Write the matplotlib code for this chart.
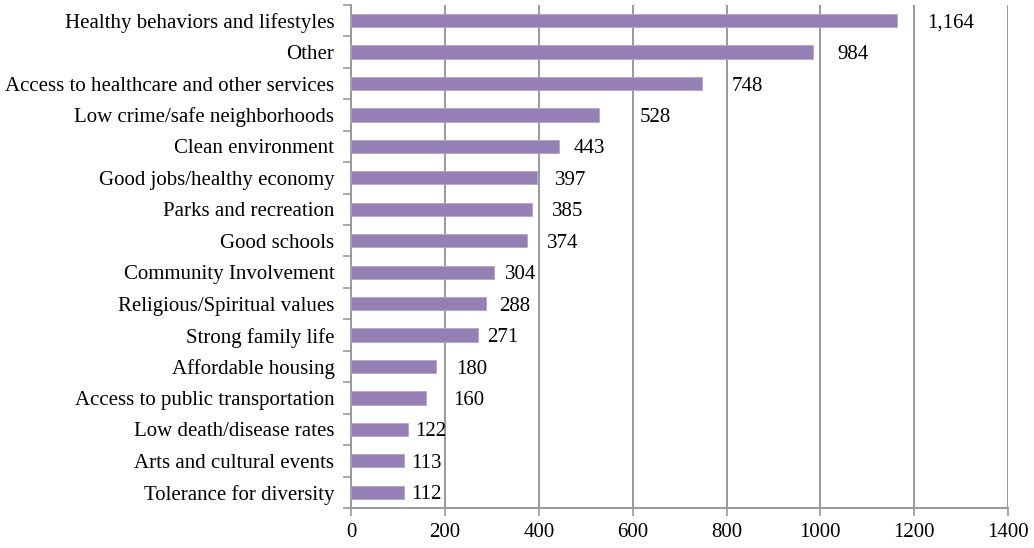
import matplotlib
matplotlib.use("Agg")
import matplotlib.pyplot as plt
import numpy as np
from matplotlib.ticker import FixedLocator

categories = [
    "Healthy behaviors and lifestyles",
    "Other",
    "Access to healthcare and other services",
    "Low crime/safe neighborhoods",
    "Clean environment",
    "Good jobs/healthy economy",
    "Parks and recreation",
    "Good schools",
    "Community Involvement",
    "Religious/Spiritual values",
    "Strong family life",
    "Affordable housing",
    "Access to public transportation",
    "Low death/disease rates",
    "Arts and cultural events",
    "Tolerance for diversity",
]
values = [1164, 984, 748, 528, 443, 397, 385, 374, 304, 288, 271, 180, 160, 122, 113, 112]
value_labels = ["1,164", "984", "748", "528", "443", "397", "385", "374",
                "304", "288", "271", "180", "160", "122", "113", "112"]
# where each data label sits (x in data units, as placed in the original)
label_x = [1228, 1036, 811, 614, 475, 435, 428, 418, 327, 315, 289, 224, 217, 136, 129, 129]
x_ticks = [0, 200, 400, 600, 800, 1000, 1200, 1400]

plt.rcParams['font.family'] = ['Liberation Serif', 'DejaVu Serif']

fig = plt.figure(figsize=(10.34, 5.48), dpi=100)
ax = fig.add_axes([0.3395, 0.073, 0.6355, 0.918])

n = len(categories)
y = np.arange(n)
bar_color = "#9580B5"
ax.barh(y, values, height=0.42, color=bar_color, edgecolor="#B3A3CC", linewidth=0.6, zorder=3)

ax.set_xlim(0, 1400)
ax.set_ylim(n - 0.5, -0.5)
ax.xaxis.set_major_locator(FixedLocator(x_ticks))
ax.set_xticklabels([str(t) for t in x_ticks], fontsize=15)

ax.set_yticks(y)
ax.set_yticklabels(categories, fontsize=15)
ax.tick_params(axis='y', which='major', length=0, pad=12)
ax.set_yticks(np.arange(-0.5, n, 1.0), minor=True)
ax.tick_params(axis='y', which='minor', length=6, width=1.2, color="#999999", direction='out')
ax.tick_params(axis='x', which='major', length=6, width=1.2, color="#999999", direction='out', pad=5)

ax.grid(axis='x', color="#999999", linewidth=1.4, zorder=0)
ax.set_axisbelow(True)
for s in ['top', 'right']:
    ax.spines[s].set_visible(False)
for s in ['left', 'bottom']:
    ax.spines[s].set_color("#999999")
    ax.spines[s].set_linewidth(1.4)

for yi, lx, lab in zip(y, label_x, value_labels):
    ax.text(lx, yi + 0.08, lab, fontsize=15, va='center', ha='left', zorder=4)

fig.savefig("out.png", dpi=100)
